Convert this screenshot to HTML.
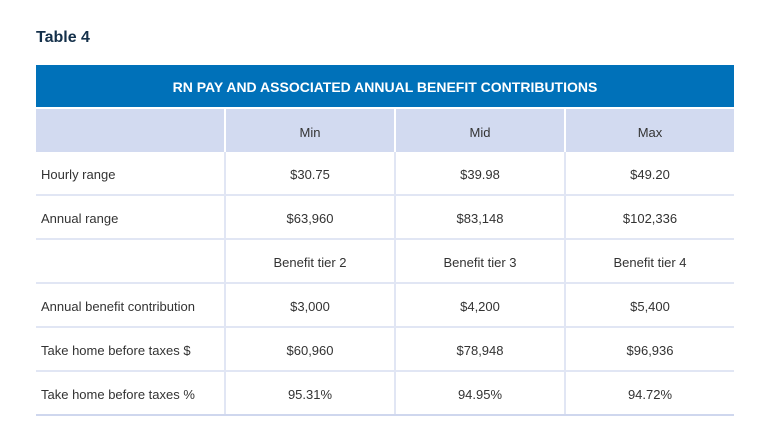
<!DOCTYPE html>
<html><head><meta charset="utf-8"><style>
body{margin:0;width:770px;height:440px;background:#fff;font-family:"Liberation Sans",sans-serif;position:relative;overflow:hidden}
.t{position:absolute;left:36px;top:29px;font-size:16px;font-weight:bold;color:#14304a}
.hd{position:absolute;left:36px;top:65px;width:698px;height:42px;background:#0071b9;color:#fff;font-weight:bold;font-size:14px;text-align:center;line-height:45px}
table{position:absolute;left:36px;top:109px;width:698px;border-collapse:collapse;font-size:13px;color:#333}
td{height:39px;padding:3px 0 0 0;border-bottom:2px solid #e1e6f4;border-right:2px solid #e1e6f4;text-align:center}
td:last-child{border-right:none}
td:first-child{text-align:left;padding-left:5px;width:183px}
td.c{width:168px}
tr.h td{background:#d2daf0;border-right:2px solid #fff;border-bottom:none;height:40px}
tr.h td:last-child{border-right:none}
tr:last-child td{border-bottom:2px solid #cfd7ee}
</style></head><body>
<div class="t">Table 4</div>
<div class="hd">RN PAY AND ASSOCIATED ANNUAL BENEFIT CONTRIBUTIONS</div>
<table>
<tr class="h"><td></td><td class="c">Min</td><td class="c">Mid</td><td>Max</td></tr>
<tr><td>Hourly range</td><td>$30.75</td><td>$39.98</td><td>$49.20</td></tr>
<tr><td>Annual range</td><td>$63,960</td><td>$83,148</td><td>$102,336</td></tr>
<tr><td></td><td>Benefit tier 2</td><td>Benefit tier 3</td><td>Benefit tier 4</td></tr>
<tr><td>Annual benefit contribution</td><td>$3,000</td><td>$4,200</td><td>$5,400</td></tr>
<tr><td>Take home before taxes $</td><td>$60,960</td><td>$78,948</td><td>$96,936</td></tr>
<tr><td>Take home before taxes %</td><td>95.31%</td><td>94.95%</td><td>94.72%</td></tr>
</table>
</body></html>
